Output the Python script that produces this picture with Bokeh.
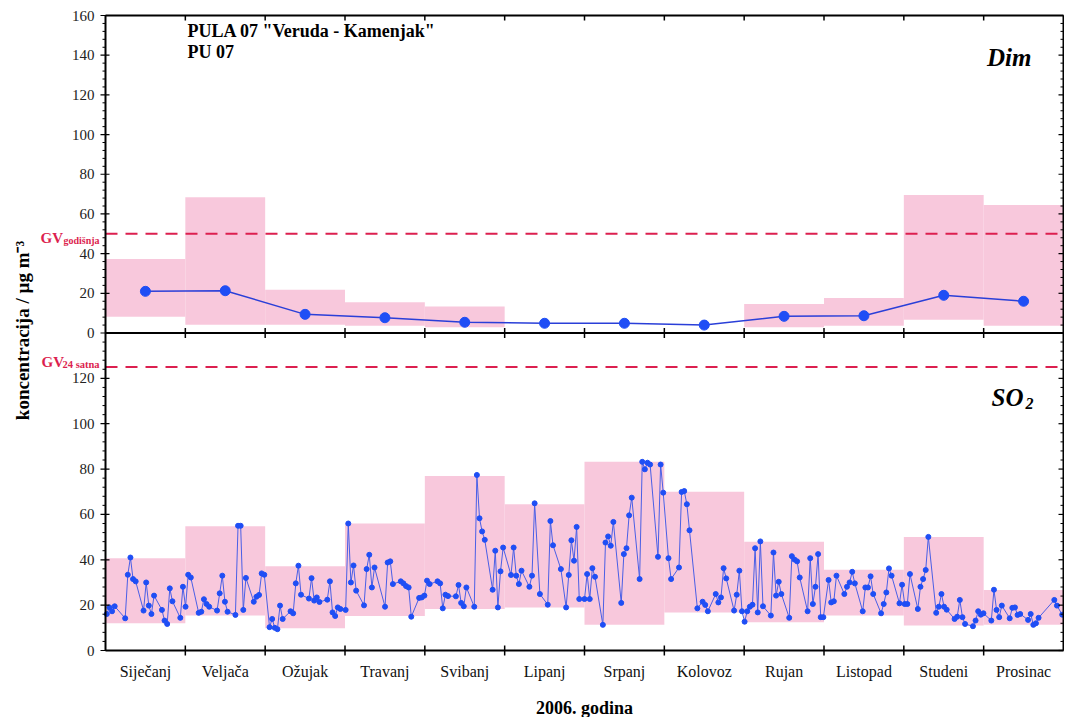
import math
from bokeh.plotting import figure
from bokeh.models import Range1d, Label, ColumnDataSource
from bokeh.core.properties import value
from bokeh.embed import file_html
from bokeh.resources import INLINE

MONTHS = ["Siječanj", "Veljača", "Ožujak", "Travanj", "Svibanj", "Lipanj",
          "Srpanj", "Kolovoz", "Rujan", "Listopad", "Studeni", "Prosinac"]

# Dim (smoke) - monthly mean, min, max
DIM_MEAN = [21.0, 21.3, 9.4, 7.7, 5.4, 4.9, 4.9, 4.0, 8.4, 8.7, 19.0, 16.0]
DIM_MIN = [8.2, 4.2, 4.2, 3.7, 2.9, None, None, None, 2.9, 3.7, 6.7, 3.7]
DIM_MAX = [37.3, 68.4, 21.8, 15.5, 13.4, None, None, None, 14.6, 17.6, 69.6, 64.5]

# SO2 - monthly min, max of daily values
SO2_MIN = [12.0, 15.4, 9.8, 15.2, 18.3, 19.0, 11.4, 16.8, 12.5, 15.4, 11.0, 11.3]
SO2_MAX = [40.7, 54.8, 37.1, 56.0, 76.9, 64.5, 83.2, 70.0, 47.9, 35.6, 50.1, 26.7]

# SO2 daily values (day of year)
SO2_DAY = [
    1, 2, 3, 4, 8, 9, 10, 11, 12, 15, 16, 17, 18, 19, 22, 23, 24, 25, 26, 29, 30, 31,
    32, 33, 36, 37, 38, 39, 40, 43, 44, 45, 46, 47, 50, 51, 52, 53, 54, 57, 58, 59, 60, 61,
    63, 64, 65, 66, 67, 68, 71, 72, 73, 74, 75, 78, 79, 80, 81, 82, 85, 86, 87, 88, 89, 90, 92,
    93, 94, 95, 96, 99, 100, 101, 102, 103, 107, 108, 109, 110, 113, 114, 115, 116, 117, 120, 121, 122, 123,
    124, 127, 128, 129, 130, 131, 134, 135, 136, 137, 138, 141, 142, 143, 144, 145, 148, 149, 150, 151, 152,
    155, 156, 157, 158, 159, 162, 163, 164, 166, 169, 170, 171, 174, 176, 177, 178, 179, 180, 181, 183,
    184, 185, 186, 187, 190, 191, 192, 193, 194, 197, 198, 199, 200, 201, 204, 205, 206, 207, 208, 211, 212, 213,
    215, 216, 219, 220, 221, 222, 223, 226, 228, 229, 230, 233, 234, 235, 236, 237, 240, 241, 242, 243, 244,
    245, 246, 247, 248, 249, 250, 251, 254, 255, 256, 257, 258, 261, 262, 263, 264, 265, 268, 269, 270, 271, 272, 273, 274,
    276, 277, 278, 279, 282, 283, 284, 285, 286, 289, 290, 291, 292, 293, 296, 297, 298, 299, 300, 303, 304, 305, 306,
    307, 310, 311, 312, 313, 314, 317, 318, 319, 320, 321, 324, 325, 326, 327, 328, 331, 332, 333, 334, 335,
    338, 339, 340, 341, 342, 345, 346, 347, 348, 349, 352, 353, 354, 355, 356, 362, 363, 365,
]
SO2_VAL = [
    16.1, 19.0, 17.3, 19.5, 14.2, 33.4, 41.0, 31.5, 30.5, 17.6, 30.0, 19.8, 16.1, 24.2, 17.9, 13.2, 11.7, 27.4, 21.7, 14.4, 28.1, 19.3,
    33.4, 32.2, 16.6, 17.1, 22.6, 20.5, 19.3, 17.6, 25.2, 33.0, 21.5, 17.1, 15.7, 55.0, 55.0, 17.9, 32.0, 21.5, 23.7, 24.5, 34.0, 33.4,
    10.3, 13.9, 10.0, 9.4, 19.8, 13.9, 17.3, 16.4, 29.6, 37.4, 24.6, 22.9, 31.9, 22.0, 23.4, 21.4, 22.4, 30.5, 16.8, 15.2, 19.0, 18.3, 17.9,
    56.0, 30.0, 37.5, 26.4, 19.9, 35.9, 42.2, 27.8, 36.6, 19.3, 38.8, 39.3, 29.3, 30.5, 29.6, 28.4, 27.8, 14.9, 23.2, 23.4, 24.2, 30.8,
    29.3, 30.5, 29.6, 18.6, 24.6, 24.0, 23.9, 28.9, 21.0, 19.5, 27.8, 19.3, 77.4, 58.3, 52.5, 48.8, 26.8, 44.0, 19.0, 34.9, 45.4,
    33.3, 45.4, 33.0, 29.3, 35.2, 28.1, 33.0, 64.9, 24.9, 20.2, 57.1, 46.4, 35.9, 19.0, 33.3, 48.6, 39.6, 54.5, 22.7, 22.7,
    33.7, 22.7, 36.3, 32.5, 11.3, 47.6, 50.3, 46.2, 56.7, 21.0, 42.5, 45.1, 59.6, 67.4, 31.5, 83.2, 79.9, 82.8, 82.0, 41.3, 82.0, 69.6,
    40.7, 31.5, 36.6, 69.9, 70.3, 64.5, 53.0, 18.6, 21.5, 20.1, 17.3, 24.9, 21.2, 23.4, 36.3, 31.8, 17.6, 24.6, 35.2, 17.3, 12.7,
    17.3, 19.3, 20.2, 45.1, 16.8, 48.1, 19.5, 15.4, 43.2, 24.2, 30.3, 24.9, 14.4, 41.6, 40.1, 39.3, 32.2, 17.3, 40.7, 20.5, 28.1, 42.5, 14.7, 14.7,
    31.1, 21.2, 21.7, 33.0, 24.9, 28.1, 30.0, 34.7, 29.6, 17.3, 27.8, 27.8, 32.7, 24.9, 16.4, 20.5, 25.6, 36.2, 33.0, 20.8, 29.0, 20.5, 20.5,
    33.7, 18.3, 28.1, 31.5, 35.5, 50.1, 16.6, 19.3, 24.9, 19.3, 18.0, 13.9, 14.9, 22.3, 14.7, 11.7, 10.7, 13.2, 17.3, 15.8, 16.4,
    13.2, 26.8, 17.9, 14.7, 19.8, 14.2, 18.8, 19.0, 15.7, 16.1, 13.5, 16.1, 11.3, 12.0, 14.4, 22.3, 19.8, 15.8,
]

GV_DIM = 50      # annual limit value, smoke
GV_SO2 = 125     # 24-hour limit value, SO2
DIM_TOP = 160
SO2_TOP = 140
DIM_TICKS = list(range(0, 161, 20))
SO2_TICKS = list(range(0, 121, 20))
X_TITLE = "2006. godina"
Y_TITLE = "koncentracija / µg m⁻³"

FONT = "Liberation Serif"
PINK = "#f8c8dc"
RED = "#dc1f4f"
BLUE_LINE = "#2a3fd8"
BLUE_DOT = "#1f4ef5"

# ---------------- layout (page pixels) ----------------
W, H = 1064, 717                 # canvas = frame
X0_PAGE, X1_PAGE = 105, 1063     # page x of month 0 and month 12
Y0_PAGE, Y1_PAGE = 650, 15       # page y of SO2 0 and of the box top

Y_TOP = 2 * SO2_TOP              # default range: SO2 in lower half, Dim in upper half
PXM = (X1_PAGE - X0_PAGE) / 12   # px per month
PXY = (Y0_PAGE - Y1_PAGE) / Y_TOP


def dim_to_y(v):
    return SO2_TOP + v * SO2_TOP / DIM_TOP


def y_to_dim(y):
    return (y - SO2_TOP) * DIM_TOP / SO2_TOP


def px_x(page_x):
    return (page_x - X0_PAGE) / PXM


def px_y(page_y):
    return (Y0_PAGE - page_y) / PXY


x_lo, x_hi = px_x(0), px_x(W)
y_lo, y_hi = px_y(H), px_y(0)

p = figure(frame_width=W, frame_height=H,
           x_range=Range1d(x_lo, x_hi), y_range=Range1d(y_lo, y_hi),
           output_backend="svg", toolbar_location=None,
           min_border_left=0, min_border_right=0, min_border_top=0, min_border_bottom=0)
p.extra_y_ranges = {"dim": Range1d(y_to_dim(y_lo), y_to_dim(y_hi))}
p.xaxis.visible = False
p.yaxis.visible = False
p.xgrid.visible = False
p.ygrid.visible = False
p.outline_line_color = None
p.background_fill_color = "white"
p.border_fill_color = "white"

# --- pink min-max boxes ---
dim_idx = [i for i in range(12) if DIM_MIN[i] is not None]
p.quad(left=[i for i in dim_idx], right=[i + 1 for i in dim_idx],
       bottom=[DIM_MIN[i] for i in dim_idx], top=[DIM_MAX[i] for i in dim_idx],
       y_range_name="dim", fill_color=PINK, line_color=None)
p.quad(left=list(range(12)), right=list(range(1, 13)), bottom=SO2_MIN, top=SO2_MAX,
       fill_color=PINK, line_color=None)

# --- limit lines ---
p.segment(x0=[0], x1=[12], y0=[GV_DIM], y1=[GV_DIM], y_range_name="dim",
          line_color=RED, line_width=2, line_dash="12 8")
p.segment(x0=[0], x1=[12], y0=[GV_SO2], y1=[GV_SO2],
          line_color=RED, line_width=2, line_dash="12 8")

# --- Dim monthly means ---
dsrc = ColumnDataSource(dict(x=[i + 0.5 for i in range(12)], y=DIM_MEAN))
p.line("x", "y", source=dsrc, y_range_name="dim", line_color=BLUE_LINE, line_width=1.5)
p.scatter("x", "y", source=dsrc, y_range_name="dim", size=10,
          fill_color=BLUE_DOT, line_color=BLUE_DOT)

# --- SO2 daily ---
ssrc = ColumnDataSource(dict(x=[(d - 0.5) * 12 / 365 for d in SO2_DAY], y=SO2_VAL))
p.line("x", "y", source=ssrc, line_color="#4a5fe6", line_width=1)
p.scatter("x", "y", source=ssrc, size=5, fill_color=BLUE_DOT, line_color=BLUE_DOT)

# --- box: edges and divider ---
p.segment(x0=[0, 12, 0, 0, 0], x1=[0, 12, 12, 12, 12],
          y0=[0, 0, Y_TOP, 0, SO2_TOP], y1=[Y_TOP, Y_TOP, Y_TOP, 0, SO2_TOP],
          line_color="black", line_width=2)

# month-boundary ticks: top (inward), divider and bottom (crossing)
bnd = list(range(1, 12))
t5y = 5 / PXY
p.segment(x0=bnd, x1=bnd, y0=[Y_TOP - t5y] * 11, y1=[Y_TOP] * 11,
          line_color="black", line_width=1.5)
p.segment(x0=bnd, x1=bnd, y0=[SO2_TOP - t5y] * 11, y1=[SO2_TOP + t5y] * 11,
          line_color="black", line_width=1.5)
p.segment(x0=bnd, x1=bnd, y0=[-t5y] * 11, y1=[t5y] * 11,
          line_color="black", line_width=1.5)

# y ticks (left crossing, right inward) for both panels
y_major = SO2_TICKS + [dim_to_y(v) for v in DIM_TICKS]
y_text = [str(v) for v in SO2_TICKS] + [str(v) for v in DIM_TICKS]
y_minor = [v for v in range(0, SO2_TOP, 4) if v % 20] + \
          [dim_to_y(v) for v in range(0, DIM_TOP + 1, 4) if v % 20]
n1, n2 = len(y_major), len(y_minor)
p.segment(x0=[-5 / PXM] * n1, x1=[4 / PXM] * n1, y0=y_major, y1=y_major,
          line_color="black", line_width=1.2)
p.segment(x0=[-3 / PXM] * n2, x1=[0] * n2, y0=y_minor, y1=y_minor,
          line_color="black", line_width=1)
p.segment(x0=[12 - 5 / PXM] * n1, x1=[12] * n1, y0=y_major, y1=y_major,
          line_color="black", line_width=1.2)
p.segment(x0=[12 - 3 / PXM] * n2, x1=[12] * n2, y0=y_minor, y1=y_minor,
          line_color="black", line_width=1)
p.text(x=[-11 / PXM] * n1, y=y_major, text=y_text, text_align="right",
       text_baseline="middle", text_font=value(FONT), text_font_size=value("15px"),
       text_color="#222222")

# month names and axis titles
p.text(x=[i + 0.5 for i in range(12)], y=[px_y(671)] * 12, text=MONTHS,
       text_align="center", text_baseline="middle", text_font=value(FONT),
       text_font_size=value("16px"), text_color="#111111")
p.text(x=[6], y=[px_y(707)], text=[X_TITLE], text_align="center", text_baseline="middle",
       text_font=value(FONT), text_font_size=value("18px"), text_font_style="bold",
       text_color="black")
p.text(x=[px_x(22)], y=[px_y(330)], text=[Y_TITLE], angle=math.pi / 2,
       text_align="center", text_baseline="middle", text_font=value(FONT),
       text_font_size=value("19px"), text_font_style="bold", text_color="black")


# --- texts (positions given in page pixels) ---
def add_label(x, y, text, size, color="black", style="bold", align="left"):
    p.add_layout(Label(x=px_x(x), y=px_y(y), text=text, text_font=FONT, text_font_size=size,
                       text_font_style=style, text_color=color, text_align=align,
                       text_baseline="alphabetic"))


add_label(187, 30, 'PULA 07 "Veruda - Kamenjak"', "18px")
add_label(187, 51, "PU 07", "18px")
add_label(1031, 57, "Dim", "25px", style="bold italic", align="right")
add_label(1023, 397, "SO", "25px", style="bold italic", align="right")
add_label(1025, 403, "2", "16px", style="bold italic")
add_label(40, 237, "GV", "15px", color=RED)
add_label(63, 240, "godišnja", "10px", color=RED)
add_label(41, 361, "GV", "15px", color=RED)
add_label(62, 364, "24 satna", "10.5px", color=RED)

open("out.html", "w").write(file_html(p, INLINE))
